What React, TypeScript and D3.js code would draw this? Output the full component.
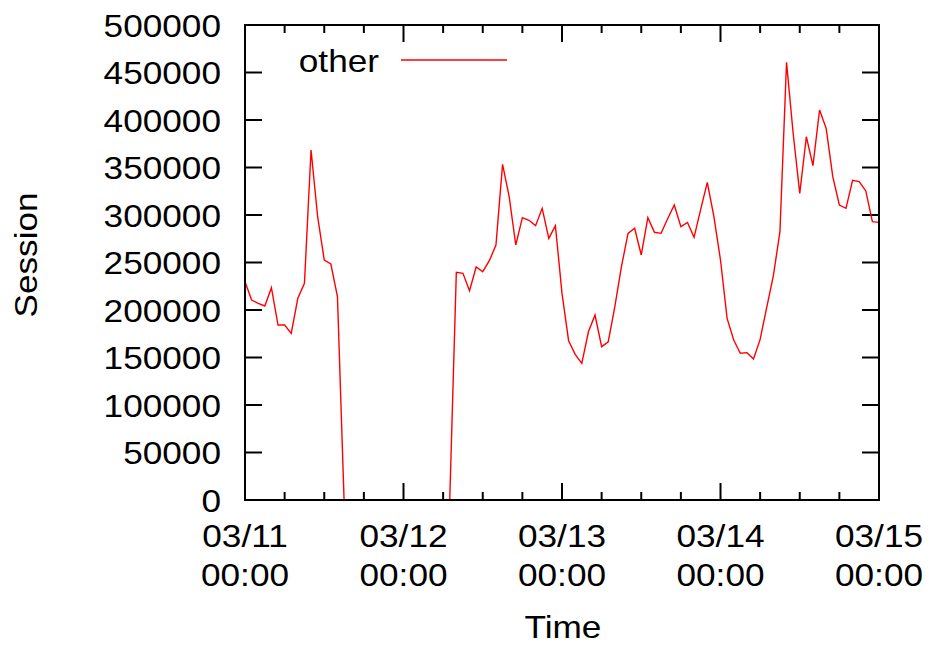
import React from "react";
import * as d3 from "d3";

// Hourly sessions from 03/11 00:00 to 03/15 00:00
const startTime = Date.UTC(2011, 2, 11, 0, 0);
const sessions: number[] = [
  229800, 210500, 207000, 204200, 223500, 184200, 184200, 175400, 212300, 228100,
  368400, 298200, 252600, 248400, 214000,
  0, 0, 0, 0, 0, 0, 0, 0, 0, 0, 0, 0, 0, 0, 0, 0, 0,
  239600, 238600, 220300, 245300, 240300, 251900, 268400, 353300, 319300, 268400,
  297200, 294400, 288800, 307000, 275400, 288800, 217500, 167700, 153300, 143800,
  177100, 194700, 161400, 166600, 203500, 245600, 280700, 286000, 257900, 297200,
  281800, 280700, 296000, 310500, 287700, 292200, 276500, 306000, 334400, 298200,
  252600, 191200, 168400, 154400, 155100, 148400, 169100, 202800, 235800, 282400,
  460700, 386000, 322800, 382400, 351900, 410500, 391200, 340300, 310500, 307000,
  336500, 335100, 325300, 293000, 292200,
];
const yTicks = [0, 50000, 100000, 150000, 200000, 250000, 300000, 350000, 400000, 450000, 500000];
const dayLabels = ["03/11", "03/12", "03/13", "03/14", "03/15"];
const timeLabel = "00:00";
const seriesName = "other";

const W = 932, H = 646;
const L = 245, R = 879, T = 25, B = 500;
const SX = 1.1;
const FS = 32;
const FONT = "'Liberation Sans', Arial, Helvetica, sans-serif";

export default function App() {
  const x = d3.scaleUtc().domain([new Date(startTime), new Date(startTime + 96 * 3600e3)]).range([L, R]);
  const y = d3.scaleLinear().domain([0, 500000]).range([B, T]);
  const pts = sessions.map((v, i) => ({ t: new Date(startTime + i * 3600e3), v }));
  const line = d3.line<{ t: Date; v: number }>().x((d) => x(d.t)).y((d) => y(d.v));
  const xTicks = x.ticks(d3.utcHour.every(6)!);

  const txt = (s: string, tx: number, ty: number, anchor: string, key?: string, rot = 0) => (
    <text
      key={key}
      transform={`translate(${tx},${ty}) rotate(${rot}) scale(${SX},1)`}
      textAnchor={anchor}
      fontFamily={FONT}
      fontSize={FS}
      fill="#000"
    >
      {s}
    </text>
  );

  return (
    <div style={{ position: "fixed", left: 0, top: 0, width: W, height: H, background: "#fff" }}>
      <svg width={W} height={H} style={{ display: "block" }}>
        <rect width={W} height={H} fill="#fff" />
        {/* y ticks */}
        {yTicks.map((v) => (
          <g key={"y" + v}>
            <line x1={L} x2={L + 17} y1={y(v)} y2={y(v)} stroke="#000" strokeWidth={2} />
            <line x1={R} x2={R - 17} y1={y(v)} y2={y(v)} stroke="#000" strokeWidth={2} />
            {txt(String(v), 221, y(v) + 11.5, "end")}
          </g>
        ))}
        {/* x ticks */}
        {xTicks.map((t, i) => {
          const major = t.getUTCHours() === 0;
          const len = major ? 17 : 8;
          return (
            <g key={"x" + i}>
              <line x1={x(t)} x2={x(t)} y1={B} y2={B - len} stroke="#000" strokeWidth={2} />
              <line x1={x(t)} x2={x(t)} y1={T} y2={T + len} stroke="#000" strokeWidth={2} />
            </g>
          );
        })}
        {dayLabels.map((d, i) => {
          const xp = x(new Date(startTime + i * 24 * 3600e3));
          return (
            <g key={"d" + d}>
              {txt(d, xp, 546.5, "middle")}
              {txt(timeLabel, xp, 585.5, "middle")}
            </g>
          );
        })}
        {/* data line */}
        <path d={line(pts) || ""} fill="none" stroke="#ff0000" strokeWidth={1.4} strokeLinejoin="miter" />
        {/* frame */}
        <rect x={L} y={T} width={R - L} height={B - T} fill="none" stroke="#000" strokeWidth={2} />
        {/* legend */}
        {txt(seriesName, 379, 71.5, "end")}
        <line x1={401} x2={507} y1={60} y2={60} stroke="#ff0000" strokeWidth={1.4} />
        {/* axis titles */}
        {txt("Time", 563, 638, "middle")}
        {txt("Session", 37, 255, "middle", undefined, -90)}
      </svg>
    </div>
  );
}
